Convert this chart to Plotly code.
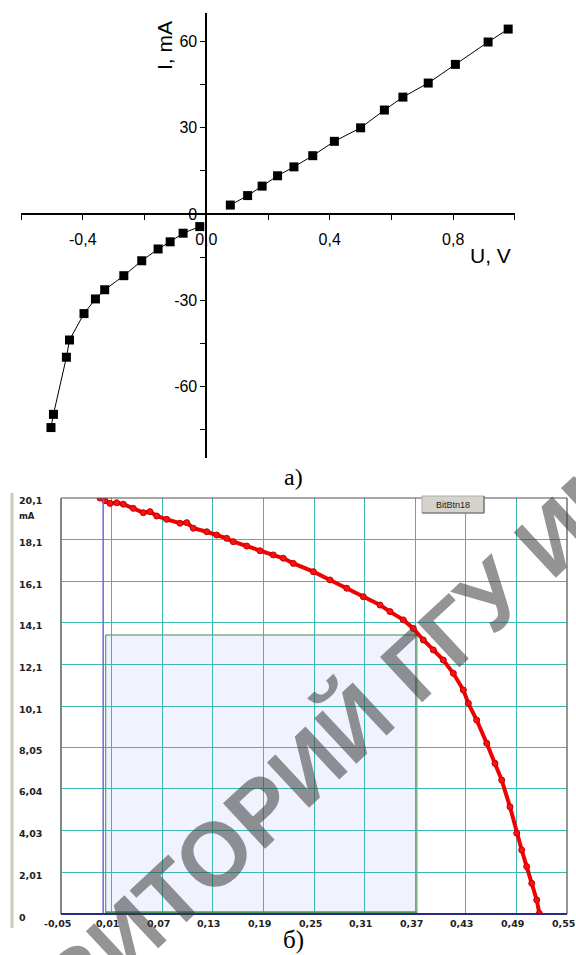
import plotly.graph_objects as go

W, H = 576, 955

# ---------- data: top chart (I-V characteristic) ----------
u_neg = [-0.503, -0.495, -0.453, -0.443, -0.396, -0.359, -0.329, -0.267,
         -0.209, -0.156, -0.117, -0.075, -0.021]
i_neg = [-74.4, -69.8, -49.9, -43.9, -34.7, -29.6, -26.4, -21.5,
         -16.3, -12.2, -9.7, -6.7, -4.4]
u_pos = [0.078, 0.134, 0.181, 0.231, 0.284, 0.345, 0.415, 0.500,
         0.577, 0.637, 0.719, 0.807, 0.913, 0.978]
i_pos = [3.1, 6.4, 9.7, 13.3, 16.4, 20.3, 25.3, 30.0,
         36.2, 40.7, 45.6, 52.1, 59.9, 64.4]

top_xticks = [-0.6, -0.4, -0.2, 0.0, 0.2, 0.4, 0.6, 0.8, 1.0]
top_xlabels = ["", "-0,4", "", "0,0", "", "0,4", "", "0,8", ""]
top_yticks = [-75, -60, -45, -30, -15, 0, 15, 30, 45, 60]
top_ylabels = ["", "-60", "", "-30", "", "0", "", "30", "", "60"]

# ---------- data: bottom chart (measured curve) ----------
u_meas = [-0.0038, 0.0022, 0.0081, 0.0160, 0.0239, 0.0357, 0.0476, 0.0555,
          0.0635, 0.0753, 0.0911, 0.0991, 0.1069, 0.1228, 0.1346, 0.1465,
          0.1543, 0.1702, 0.1860, 0.2017, 0.2136, 0.2255, 0.2492, 0.2690,
          0.2888, 0.3085, 0.3283, 0.3401, 0.3559, 0.3678, 0.3796, 0.3915,
          0.4033, 0.4152, 0.4271, 0.4330, 0.4429, 0.4548, 0.4646, 0.4726,
          0.4824, 0.4904, 0.4963, 0.5022, 0.5082, 0.5141, 0.5172]
i_meas = [20.10, 19.97, 19.84, 19.87, 19.80, 19.60, 19.39, 19.44,
          19.23, 19.07, 18.88, 18.91, 18.64, 18.47, 18.31, 18.15,
          17.99, 17.78, 17.55, 17.35, 17.19, 16.94, 16.54, 16.14,
          15.74, 15.33, 14.93, 14.61, 14.21, 13.80, 13.24, 12.76,
          12.27, 11.63, 10.82, 10.18, 9.37, 8.25, 7.28, 6.47,
          5.18, 3.90, 3.09, 2.29, 1.48, 0.68, 0.03]

bot_xticks = [-0.05, 0.01, 0.07, 0.13, 0.19, 0.25, 0.31, 0.37, 0.43, 0.49, 0.55]
bot_xlabels = ["-0,05", "0,01", "0,07", "0,13", "0,19", "0,25", "0,31",
               "0,37", "0,43", "0,49", "0,55"]
bot_yticks = [0, 2.01, 4.03, 6.04, 8.05, 10.05, 12.06, 14.07, 16.08, 18.09, 20.1]
bot_ylabels = ["0", "2,01", "4,03", "6,04", "8,05", "10,1", "12,1", "14,1",
               "16,1", "18,1", "20,1"]


def fx(p):
    return p / W


def fy(p):
    return 1 - p / H


# layout geometry (pixels)
TOP_X = (21, 515)
TOP_Y = (13, 458)          # top, bottom
TOP_XR = [-0.6001, 1.0001]
TOP_YR = [-85, 70]
BOT_X = (61, 567)
BOT_Y = (498, 914)
BOT_XR = [-0.05, 0.55]
BOT_YR = [0, 20.1]

top_xdom = [fx(TOP_X[0]), fx(TOP_X[1])]
top_ydom = [fy(TOP_Y[1]), fy(TOP_Y[0])]
x_axis_pos = top_ydom[0] + (top_ydom[1] - top_ydom[0]) * (0 - TOP_YR[0]) / (TOP_YR[1] - TOP_YR[0])
y_axis_pos = top_xdom[0] + (top_xdom[1] - top_xdom[0]) * (0 - TOP_XR[0]) / (TOP_XR[1] - TOP_XR[0])

fig = go.Figure()

mk = dict(symbol="square", size=9, color="black")
fig.add_trace(go.Scatter(x=u_neg, y=i_neg, mode="lines+markers",
                         line=dict(color="black", width=1), marker=mk,
                         xaxis="x", yaxis="y", showlegend=False))
fig.add_trace(go.Scatter(x=u_pos, y=i_pos, mode="lines+markers",
                         line=dict(color="black", width=1), marker=mk,
                         xaxis="x", yaxis="y", showlegend=False))

fig.add_trace(go.Scatter(x=u_meas, y=i_meas, mode="lines+markers",
                         line=dict(color="#f00000", width=4),
                         marker=dict(symbol="circle", size=6, color="#ff1010",
                                     line=dict(color="#c00000", width=1)),
                         xaxis="x2", yaxis="y2", showlegend=False))

tick_font = dict(family="Liberation Sans, Arial", size=16, color="black")
bot_font = dict(family="DejaVu Sans, Verdana", size=9.5, color="#222222", weight="bold")
GRID = "#3cb8b0"

fig.update_layout(
    width=W, height=H,
    margin=dict(l=0, r=0, t=0, b=0, autoexpand=False),
    paper_bgcolor="white", plot_bgcolor="rgba(0,0,0,0)",
    xaxis=dict(domain=top_xdom, range=TOP_XR, anchor="free", position=x_axis_pos,
               showline=True, linecolor="black", linewidth=1.6,
               ticks="outside", ticklen=5, tickwidth=1.4, tickcolor="black",
               tickmode="array", tickvals=top_xticks, ticktext=top_xlabels,
               tickfont=tick_font, ticklabelstandoff=6, automargin=False,
               showgrid=False, zeroline=False),
    yaxis=dict(domain=top_ydom, range=TOP_YR, anchor="free", position=y_axis_pos,
               showline=True, linecolor="black", linewidth=1.6,
               ticks="outside", ticklen=5, tickwidth=1.4, tickcolor="black",
               tickmode="array", tickvals=top_yticks, ticktext=top_ylabels,
               tickfont=tick_font, showgrid=False, zeroline=False, automargin=False),
    xaxis2=dict(domain=[fx(BOT_X[0]), fx(BOT_X[1])], range=BOT_XR, anchor="y2",
                tickmode="array", tickvals=bot_xticks, showticklabels=False,
                ticks="", showgrid=True, gridcolor=GRID, automargin=False,
                gridwidth=1.2, zeroline=False, showline=False),
    yaxis2=dict(domain=[fy(BOT_Y[1]), fy(BOT_Y[0])], range=BOT_YR, anchor="x2",
                tickmode="array", tickvals=bot_yticks, showticklabels=False,
                ticks="", showgrid=True, gridcolor=GRID, gridwidth=1.2,
                zeroline=False, showline=False, automargin=False),
)

shapes = []
# bottom plot white background
shapes.append(dict(type="rect", xref="x2 domain", yref="y2 domain", x0=0, x1=1, y0=0, y1=1,
                   fillcolor="white", line=dict(width=0), layer="below"))
# shaded selection rectangle
shapes.append(dict(type="rect", xref="x2", yref="y2", x0=0.003, x1=0.372, y0=0.0, y1=13.48,
                   fillcolor="#f0f2fd", line=dict(color="#3d8a4f", width=1), layer="below"))
shapes.append(dict(type="line", xref="x2", yref="y2", x0=0.003, x1=0.372, y0=0.08, y1=0.08,
                   line=dict(color="#4d9a5f", width=2)))
# blue vertical marker line at U=0
shapes.append(dict(type="line", xref="x2", yref="y2 domain", x0=0.0, x1=0.0, y0=0, y1=1,
                   line=dict(color="#6a6ad8", width=1.5)))
# frame
shapes.append(dict(type="line", xref="x2 domain", yref="y2 domain", x0=0, x1=1, y0=1, y1=1,
                   line=dict(color="#505050", width=1.2)))
shapes.append(dict(type="line", xref="x2 domain", yref="y2 domain", x0=1, x1=1, y0=0, y1=1,
                   line=dict(color="#505050", width=1.2)))
shapes.append(dict(type="line", xref="x2 domain", yref="y2 domain", x0=0, x1=0, y0=0, y1=1,
                   line=dict(color="#858585", width=2)))
shapes.append(dict(type="line", xref="x2 domain", yref="y2 domain", x0=0, x1=1, y0=0, y1=0,
                   line=dict(color="#2a2a80", width=2)))
# gray bar at the left edge
shapes.append(dict(type="rect", xref="paper", yref="paper", x0=fx(10.5), x1=fx(13.5),
                   y0=fy(928), y1=fy(493), fillcolor="#cbcbc2", line=dict(width=0)))
# button
shapes.append(dict(type="rect", xref="paper", yref="paper", x0=fx(422), x1=fx(484),
                   y0=fy(513), y1=fy(496), fillcolor="#d6d3ce",
                   line=dict(color="#b0aea8", width=1)))
shapes.append(dict(type="line", xref="paper", yref="paper", x0=fx(422), x1=fx(484),
                   y0=fy(513), y1=fy(513), line=dict(color="#6a6a6a", width=1.2)))
shapes.append(dict(type="line", xref="paper", yref="paper", x0=fx(484), x1=fx(484),
                   y0=fy(513), y1=fy(496), line=dict(color="#6a6a6a", width=1.2)))
fig.update_layout(shapes=shapes)

ann = []
C = dict(xref="paper", yref="paper", xanchor="center", yanchor="middle", showarrow=False)
# top chart axis titles
ann.append(dict(text="I, mA", x=fx(165), y=fy(46), textangle=-90,
                font=dict(family="Liberation Sans, Arial", size=21, color="black"), **C))
ann.append(dict(text="U, V", x=fx(490), y=fy(256),
                font=dict(family="Liberation Sans, Arial", size=21, color="black"), **C))
# captions
ann.append(dict(text="а)", x=fx(293), y=fy(477),
                font=dict(family="Liberation Serif, Times New Roman", size=24, color="black"), **C))
ann.append(dict(text="б)", x=fx(293), y=fy(940),
                font=dict(family="Liberation Serif, Times New Roman", size=25, color="black"), **C))
# bottom chart y labels (left aligned)
for v, t in zip(bot_yticks, bot_ylabels):
    ann.append(dict(text=t, x=fx(17), y=v, xref="paper", yref="y2", xanchor="left",
                    yanchor="middle", yshift=-3, showarrow=False, font=bot_font))
# bottom chart x labels
for v, t in zip(bot_xticks, bot_xlabels):
    ann.append(dict(text=t, x=v, y=fy(923), xref="x2", yref="paper", xanchor="center",
                    yanchor="middle", xshift=-4, showarrow=False, font=bot_font))
ann.append(dict(text="mA", x=fx(17), y=fy(516), xref="paper", yref="paper", xanchor="left",
                yanchor="middle", showarrow=False,
                font=dict(family="DejaVu Sans, Verdana", size=8.5, color="#222222", weight="bold")))
ann.append(dict(text="BitBtn18", x=fx(453), y=fy(504.5),
                font=dict(family="Liberation Sans, Arial", size=9, color="#202020"), **C))
# watermark
ann.append(dict(text="РЕПОЗИТОРИЙ ГГУ ИМЕНИ", x=fx(322), y=fy(752), textangle=-43,
                font=dict(family="Liberation Sans, Arial", size=90, color="rgba(60,60,60,0.55)",
                          weight="bold"), **C))
fig.update_layout(annotations=ann)

fig.write_html("out.html")
